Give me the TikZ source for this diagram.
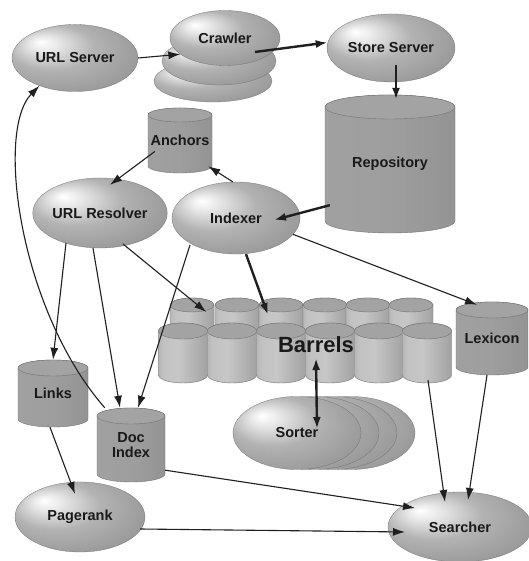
\documentclass[tikz,border=0pt]{standalone}
\usepackage{fontspec}
\setmainfont{Liberation Sans}
\usetikzlibrary{arrows.meta,shapes.geometric}
\pgfdeclareradialshading{egg}{\pgfqpoint{-14bp}{12bp}}{color(0bp)=(white); color(5bp)=(white!92!black); color(17bp)=(black!30); color(32bp)=(black!40); color(50bp)=(black!52)}
\pgfdeclarehorizontalshading{drum}{100bp}{color(0bp)=(black!36); color(50bp)=(black!38); color(85bp)=(black!44); color(100bp)=(black!52)}
\pgfdeclarehorizontalshading{barrel}{100bp}{color(0bp)=(black!50); color(30bp)=(black!24); color(45bp)=(black!22); color(70bp)=(black!34); color(100bp)=(black!52)}
\newcommand\nodefnt{\fontsize{14.5}{15}\selectfont\bfseries}
\newcommand\bigfnt{\fontsize{22}{24}\selectfont\bfseries}
\tikzset{
  egg/.style={ellipse, shade, shading=egg, draw=black!55, line width=0.3pt, inner sep=0pt, font=\nodefnt, text=black!90},
  box/.style={rectangle, draw=none, inner sep=0pt, font=\nodefnt, text=black!90, align=center},
  cyledge/.style={draw=black!55, line width=0.4pt},
  arr/.style={draw=black!88, line width=1.1pt, -{Latex[length=12pt,width=8pt]}},
  thickarr/.style={arr, line width=2.4pt},
}
% name, cx, top, width, height, cap radius, shading, text
\newcommand\cyl[8]{%
  \path[shade, shading=#7, cyledge] ({#2-#4/2},{#3-#6}) -- ({#2-#4/2},{#3-#5+#6})
    arc[start angle=180, end angle=360, x radius={#4/2}, y radius=#6]
    -- ({#2+#4/2},{#3-#6})
    arc[start angle=0, end angle=180, x radius={#4/2}, y radius=#6] -- cycle;
  \path[fill=black!36, cyledge] (#2,{#3-#6}) ellipse [x radius={#4/2}, y radius=#6];
  \node[box, minimum width=#4pt, minimum height=#5pt] (#1) at (#2,{#3-#5/2}) {#8};
}
\begin{document}
\begin{tikzpicture}[x=1pt,y=1pt]
\useasboundingbox (0,0) rectangle (528,561);
\fill[white] (0,0) rectangle (528,561);

% crawler stack
\node[egg, minimum width=118pt, minimum height=42pt] (crawlerC) at (213,480) {};
\node[egg, minimum width=114pt, minimum height=48pt] (crawlerB) at (219,500) {};
\node[egg, minimum width=110pt, minimum height=55pt] (crawler) at (225,523) {Crawler};
\node[egg, minimum width=126pt, minimum height=67pt] (urlserver) at (75,503) {URL Server};
\node[egg, minimum width=128pt, minimum height=68pt] (storeserver) at (391,513) {Store Server};

\cyl{repository}{390}{466}{130}{138}{12}{drum}{Repository}
\cyl{anchors}{180}{453}{64}{65}{7}{drum}{Anchors}

\node[egg, minimum width=128pt, minimum height=70pt] (urlresolver) at (100,348) {URL Resolver};
\node[egg, minimum width=128pt, minimum height=72pt] (indexer) at (236,343) {Indexer};

% barrels, back row
\cyl{bb1}{192}{263}{44}{40}{7}{barrel}{}
\cyl{bb2}{237}{263}{44}{40}{7}{barrel}{}
\cyl{bb3}{281}{263}{44}{40}{7}{barrel}{}
\cyl{bb4}{325}{263}{44}{40}{7}{barrel}{}
\cyl{bb5}{368}{263}{44}{40}{7}{barrel}{}
\cyl{bb6}{411}{263}{44}{40}{7}{barrel}{}
% barrels, front row
\cyl{fb1}{183}{238}{49}{60}{8}{barrel}{}
\cyl{fb2}{232}{238}{49}{60}{8}{barrel}{}
\cyl{fb3}{281}{238}{49}{60}{8}{barrel}{}
\cyl{fb4}{330}{238}{49}{60}{8}{barrel}{}
\cyl{fb5}{379}{238}{49}{60}{8}{barrel}{}
\cyl{fb6}{427}{238}{49}{60}{8}{barrel}{}
\node[box, font=\bigfnt] (barrels) at (316,216) {Barrels};

\cyl{lexicon}{492}{259}{72}{73}{8}{drum}{Lexicon}
\cyl{links}{53}{201}{70}{67}{8}{drum}{Links}
\cyl{docindex}{131}{153}{68}{74}{8}{drum}{Doc\\Index}

% sorter stack
\node[egg, minimum width=128pt, minimum height=73pt] (sorterD) at (351,128) {};
\node[egg, minimum width=128pt, minimum height=73pt] (sorterC) at (333,128) {};
\node[egg, minimum width=128pt, minimum height=73pt] (sorterB) at (315,128) {};
\node[egg, minimum width=128pt, minimum height=73pt] (sorter) at (297,128) {Sorter};

\node[egg, minimum width=130pt, minimum height=70pt] (pagerank) at (80,44) {Pagerank};
\node[egg, minimum width=144pt, minimum height=70pt] (searcher) at (460,34) {Searcher};

% connectors
\draw[arr] (urlserver.east) -- (crawler.200);
\draw[thickarr] ([xshift=30pt,yshift=-14pt]crawler.center) -- (storeserver.175);
\draw[thickarr] ([xshift=5pt,yshift=-17pt]storeserver.center) -- ([xshift=6pt,yshift=-5pt]repository.north);
\draw[thickarr] ([xshift=5pt,yshift=28pt]repository.south west) -- ([xshift=38pt,yshift=-2pt]indexer.center);
\draw[arr] (indexer.95) -- ([xshift=-4pt,yshift=7pt]anchors.south east);
\draw[arr] ([xshift=7pt,yshift=-11pt]anchors.west) -- ([xshift=10pt,yshift=-7pt]urlresolver.north);
\draw[arr] ([xshift=-34pt,yshift=-30pt]urlresolver.center) -- (links.north);
\draw[arr] ([xshift=-7pt]urlresolver.south) -- ([xshift=-11pt]docindex.north);
\draw[arr] ([xshift=23pt,yshift=-31pt]urlresolver.center) -- ([xshift=-8pt,yshift=6pt]bb1.east);
\draw[arr] ([xshift=-46pt,yshift=-27pt]indexer.center) -- ([xshift=7pt]docindex.north);
\draw[thickarr] ([xshift=10pt]indexer.south) -- ([xshift=-13pt,yshift=3pt]bb3.center);
\draw[arr] (indexer.-16) -- ([xshift=-15pt,yshift=-3pt]lexicon.north);
\draw[arr] ([xshift=8pt]docindex.north west) .. controls (20,250) and (-5,430) .. (urlserver.218);
\draw[arr] ([xshift=-3pt]links.south) -- ([xshift=-5pt,yshift=-12pt]pagerank.north);
\draw[arr] ([yshift=12pt]docindex.south east) -- ([xshift=-45pt,yshift=19pt]searcher.center);
\draw[arr] ([xshift=-5pt,yshift=-12pt]pagerank.east) -- ([xshift=-55pt,yshift=-5pt]searcher.center);
\draw[arr] ([xshift=1pt,yshift=3pt]fb6.south) -- ([xshift=-15pt,yshift=25pt]searcher.center);
\draw[arr] ([xshift=-5pt]lexicon.south) -- ([xshift=8pt,yshift=27pt]searcher.center);
\draw[thickarr, {Latex[length=12pt,width=8pt]}-{Latex[length=12pt,width=8pt]}] ([yshift=-13pt]barrels.center) -- ([xshift=20pt,yshift=4pt]sorter.center);
\end{tikzpicture}
\end{document}
